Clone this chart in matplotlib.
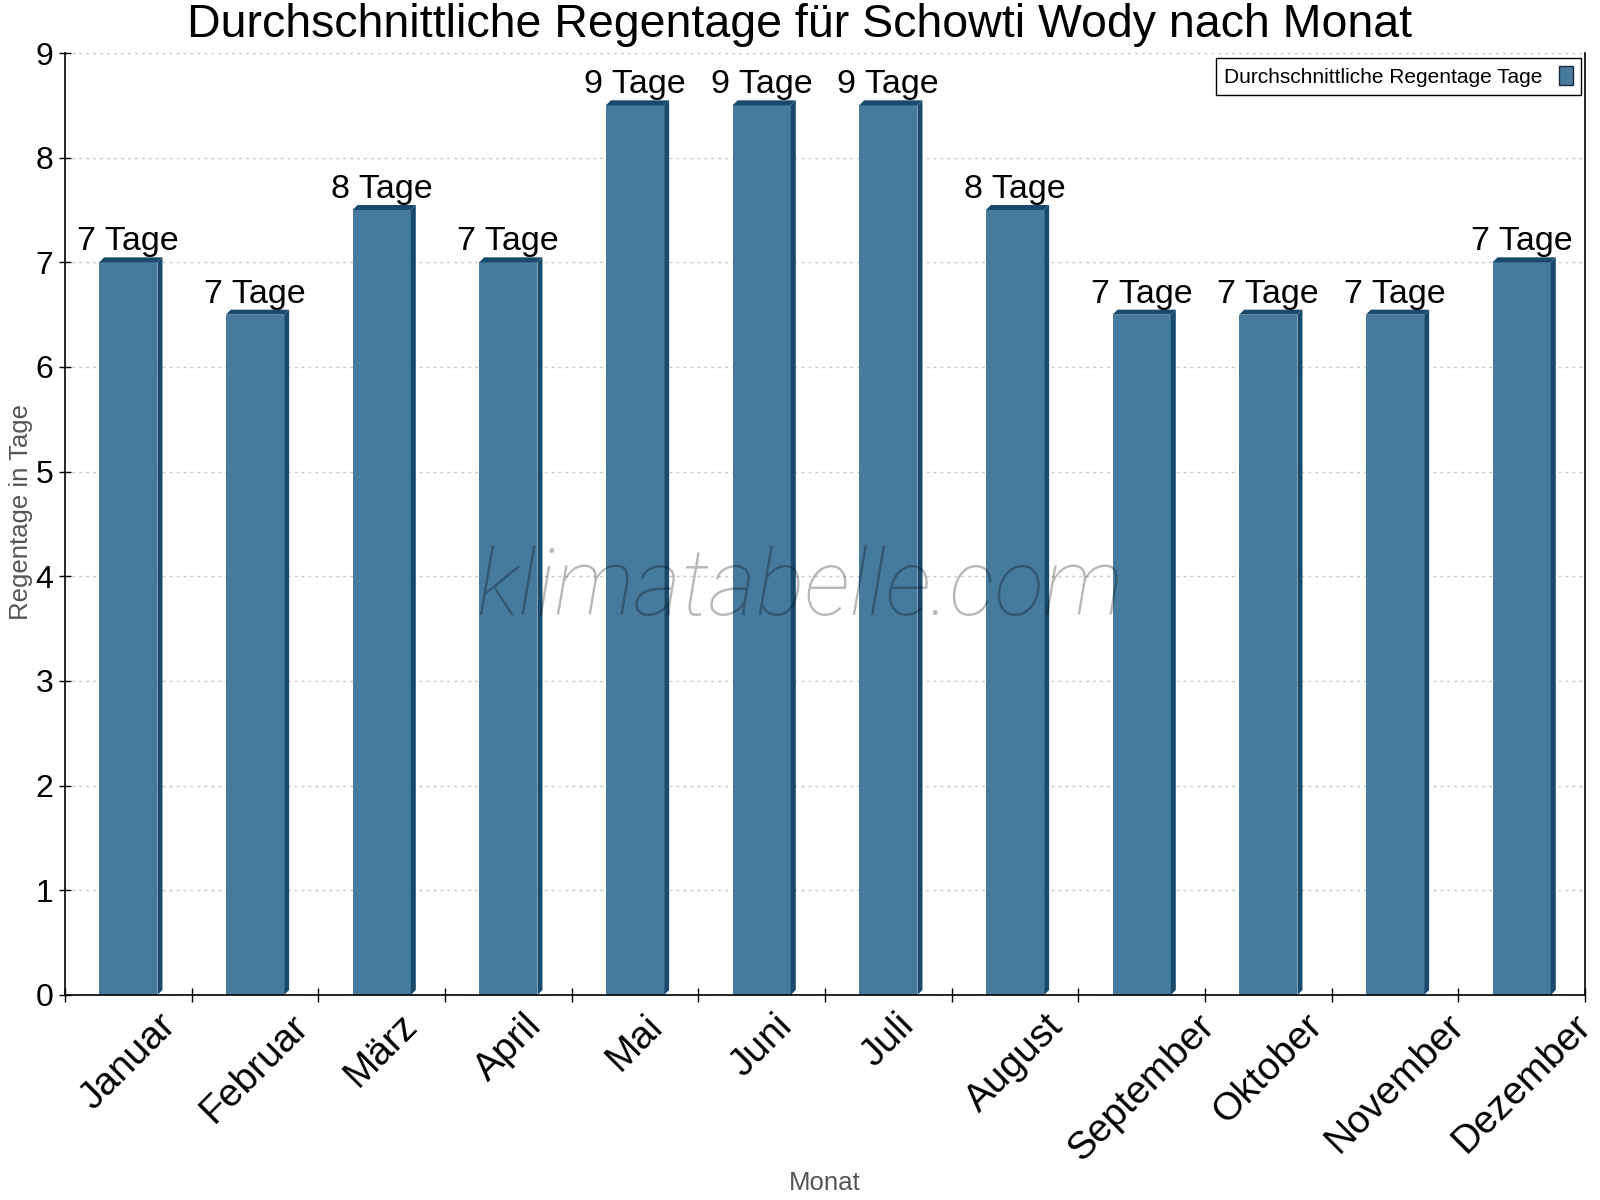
import numpy as np
import matplotlib.pyplot as plt
from matplotlib.patches import Polygon, Patch

plt.rcParams['font.family'] = ['Liberation Sans', 'DejaVu Sans']

months = ["Januar", "Februar", "März", "April", "Mai", "Juni", "Juli",
          "August", "September", "Oktober", "November", "Dezember"]
rain_days = [7, 6.5, 7.5, 7, 8.5, 8.5, 8.5, 7.5, 6.5, 6.5, 6.5, 7]
label_days = [7, 7, 8, 7, 9, 9, 9, 8, 7, 7, 7, 7]

front = "#467b9d"
dark = "#184a6e"

fig = plt.figure(figsize=(16, 12), dpi=100)
ax = fig.add_axes([65 / 1600, 1 - 995 / 1200, 1520 / 1600, 942 / 1200])

x = np.arange(len(months))
width = 0.46
ax.bar(x, rain_days, width=width, color=front, edgecolor="none", zorder=2)

ax.set_xlim(-0.5, len(months) - 0.5)
ax.set_ylim(0, 9)

# fake 3d depth, about 5 px
bbox = ax.get_position()
dx = 5 / (bbox.width * 1600) * len(months)
dy = 5 / (bbox.height * 1200) * 9
for xi, h in zip(x, rain_days):
    x0, x1 = xi - width / 2, xi + width / 2
    side = [(x1, 0), (x1 + dx, dy), (x1 + dx, h + dy), (x1, h)]
    top = [(x0, h), (x0 + dx, h + dy), (x1 + dx, h + dy), (x1, h)]
    ax.add_patch(Polygon(side, closed=True, facecolor=dark, edgecolor="none", zorder=2))
    ax.add_patch(Polygon(top, closed=True, facecolor=dark, edgecolor="none", zorder=2))

for xi, h, d in zip(x, rain_days, label_days):
    ax.annotate(f"{d} Tage", xy=(xi, h + dy), xytext=(0, 0), textcoords="offset pixels",
                ha="center", va="bottom", fontsize=24.5, zorder=3)

ax.set_yticks(np.arange(0, 10, 1))
ax.yaxis.grid(True, linestyle=(0, (2, 3)), color="#c8c8c8", linewidth=1, zorder=0)
ax.set_axisbelow(True)

ax.set_xticks(np.arange(-0.5, len(months), 1))
ax.set_xticklabels([])
ax.set_xticks(x, minor=True)
ax.set_xticklabels(months, minor=True, rotation=45, ha="center", va="top", fontsize=28)
ax.tick_params(axis="x", which="major", direction="inout", length=10, width=1)
ax.tick_params(axis="x", which="minor", length=0, pad=9)
ax.tick_params(axis="y", direction="inout", length=9, width=1, labelsize=23, pad=4)

for s in ["left", "right", "bottom"]:
    ax.spines[s].set_linewidth(1.2)
ax.spines["top"].set_visible(False)

ax.set_ylabel("Regentage in Tage", fontsize=18.5, color="#555555")
ax.yaxis.set_label_coords(-44 / 1520, (995 - 512) / 942)
ax.yaxis.label.set_va("center")
ax.set_xlabel("Monat", fontsize=18.5, color="#555555")
ax.xaxis.set_label_coords(0.5, -(1183 - 995) / 942)
ax.xaxis.label.set_va("center")

fig.text(0.5, 1 - 37 / 1200, "Durchschnittliche Regentage für Schowti Wody nach Monat",
         ha="center", va="baseline", fontsize=33.5)

fig.text(0.5, 1 - 590 / 1200, "klimatabelle.com", ha="center", va="center",
         fontsize=66, style="italic", fontweight="light", family=["Roboto", "Lato", "DejaVu Sans"],
         color="black", alpha=0.28, zorder=5)

handle = Patch(facecolor=front, edgecolor="#1a2a3a", linewidth=1)
leg = ax.legend([handle], ["Durchschnittliche Regentage Tage"], loc="upper right",
                bbox_to_anchor=(1 - 4 / 1520, 1 - 5 / 942), borderaxespad=0,
                fontsize=15, markerfirst=False, handlelength=0.65, handleheight=1.0,
                handletextpad=0.8, borderpad=0.4, fancybox=False, framealpha=1,
                edgecolor="black")
leg.get_frame().set_linewidth(1)

fig.savefig("out.png", dpi=100)
